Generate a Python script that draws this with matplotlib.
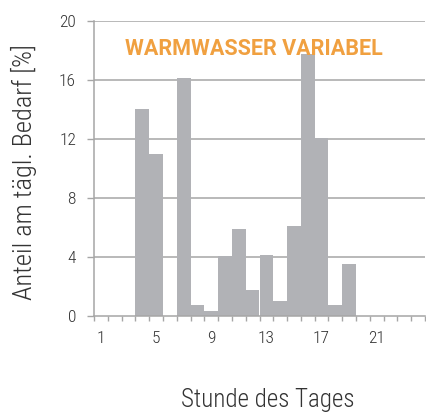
import matplotlib
matplotlib.use('Agg')
import matplotlib.pyplot as plt
import numpy as np

hours = list(range(1, 25))
share = [0, 0, 0, 14.0, 11.0, 0, 16.15, 0.72, 0.32, 4.07, 5.93, 1.74,
         4.14, 1.04, 6.09, 17.78, 12.08, 0.77, 3.53, 0, 0, 0, 0, 0]
xticks = [1, 5, 9, 13, 17, 21]
yticks = [0, 4, 8, 12, 16, 20]
title = 'WARMWASSER VARIABEL'
xlabel = 'Stunde des Tages'
ylabel = 'Anteil am tägl. Bedarf [%]'

W, H = 427, 417
plt.rcParams['font.family'] = ['Roboto Condensed', 'DejaVu Sans']
plt.rcParams['font.weight'] = 300
txt_col = '#333333'
line_col = '#a6a6a6'

fig = plt.figure(figsize=(W / 100, H / 100), dpi=100)
ax = fig.add_axes([94 / W, (H - 316) / H, 331 / W, 295 / H])

ax.bar(hours, share, width=1.0, color='#b1b2b6', zorder=2)
ax.set_xlim(0.5, 24.5)
ax.set_ylim(0, 20)

for y in yticks[1:]:
    ax.axhline(y, color=line_col, lw=1.1, zorder=1)

ax.set_yticks(yticks)
ax.set_xticks(xticks)
ax.set_xticks(np.arange(0.5, 25, 1), minor=True)
ax.tick_params(axis='x', which='major', length=0, pad=11, labelsize=12.5, colors=txt_col)
ax.tick_params(axis='x', which='minor', length=3.5, width=1, color=line_col, direction='out')
ax.tick_params(axis='y', length=5, width=1, color=line_col, labelsize=12.5,
               labelcolor=txt_col, pad=8)

for s in ['top', 'right']:
    ax.spines[s].set_visible(False)
for s in ['left', 'bottom']:
    ax.spines[s].set_color(line_col)
    ax.spines[s].set_linewidth(1.1)

fig.text(24 / W, 1 - 172 / H, ylabel, rotation=90, ha='center', va='center',
         fontsize=19, color=txt_col)
fig.text(268 / W, 1 - 400 / H, xlabel, ha='center', va='center',
         fontsize=18, color=txt_col)
fig.text(254 / W, 1 - 49 / H, title, ha='center', va='center',
         fontsize=15.5, fontweight='bold', color='#f0a040', zorder=5,
         family=['Roboto', 'DejaVu Sans'])

plt.savefig('out.png', dpi=100)
